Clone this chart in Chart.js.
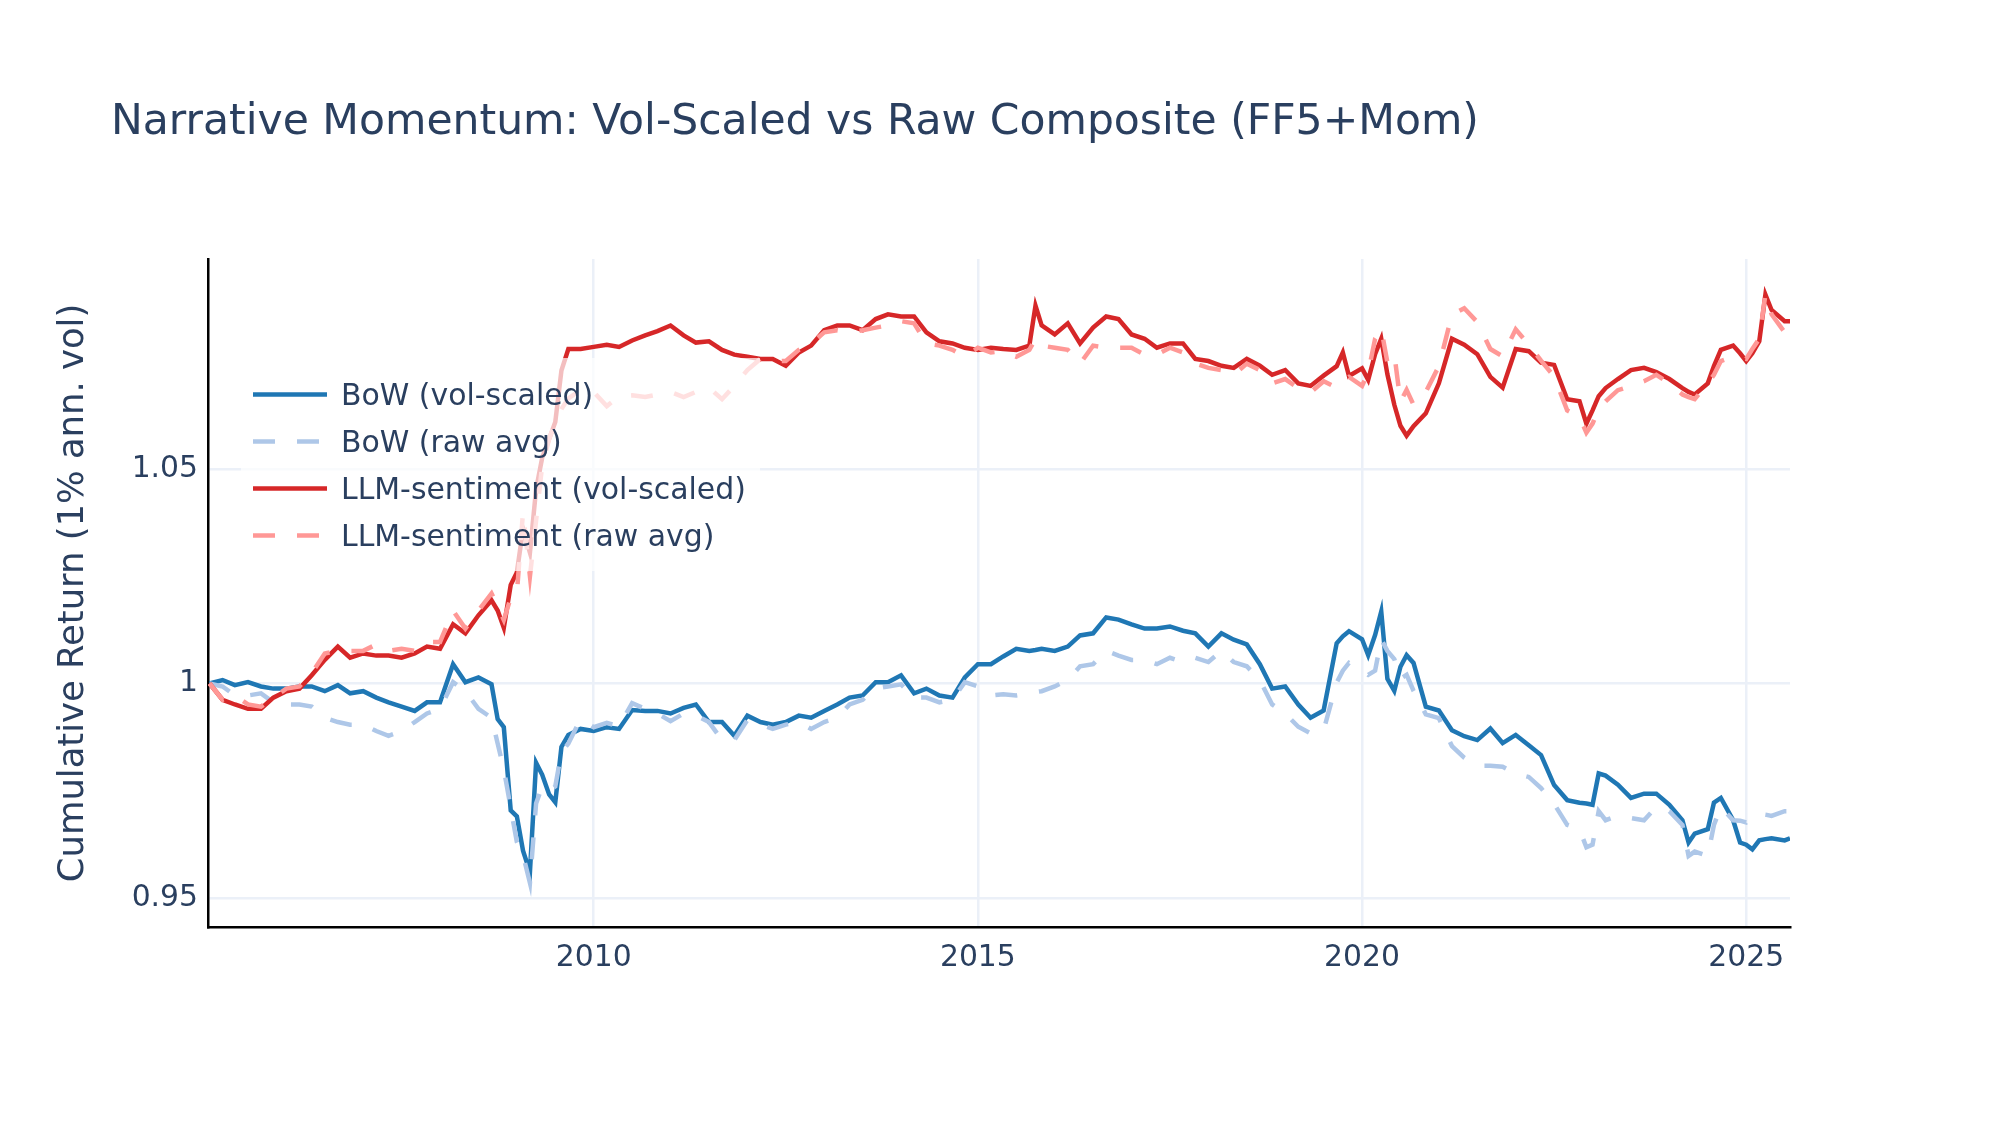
<!DOCTYPE html>
<html>
<head>
<meta charset="utf-8">
<script src="https://cdn.jsdelivr.net/npm/chart.js@4.4.1/dist/chart.umd.min.js"></script>
<style>
html, body { margin: 0; padding: 0; background: #ffffff; }
#quadro { width: 2000px; height: 1126px; position: relative; }
</style>
</head>
<body>
<div id="quadro"><canvas id="grafico-retorno"></canvas></div>
<script>
// decimal years, one row per calendar year
const datas = [
    2005.00, 2005.17, 2005.33, 2005.50, 2005.67, 2005.83,
    2006.00, 2006.17, 2006.33, 2006.50, 2006.67, 2006.83,
    2007.00, 2007.17, 2007.33, 2007.50, 2007.67, 2007.83,
    2008.00, 2008.17, 2008.33, 2008.50, 2008.67, 2008.75, 2008.83, 2008.92,
    2009.00, 2009.08, 2009.17, 2009.25, 2009.33, 2009.42, 2009.50, 2009.58, 2009.67, 2009.83,
    2010.00, 2010.17, 2010.33, 2010.50, 2010.67, 2010.83,
    2011.00, 2011.17, 2011.33, 2011.50, 2011.67, 2011.83,
    2012.00, 2012.17, 2012.33, 2012.50, 2012.67, 2012.83,
    2013.00, 2013.17, 2013.33, 2013.50, 2013.67, 2013.83,
    2014.00, 2014.17, 2014.33, 2014.50, 2014.67, 2014.83,
    2015.00, 2015.17, 2015.33, 2015.50, 2015.67, 2015.75, 2015.83,
    2016.00, 2016.17, 2016.33, 2016.50, 2016.67, 2016.83,
    2017.00, 2017.17, 2017.33, 2017.50, 2017.67, 2017.83,
    2018.00, 2018.17, 2018.33, 2018.50, 2018.67, 2018.83,
    2019.00, 2019.17, 2019.33, 2019.50, 2019.67, 2019.75, 2019.83,
    2020.00, 2020.08, 2020.17, 2020.25, 2020.33, 2020.42, 2020.50, 2020.58, 2020.67, 2020.83,
    2021.00, 2021.17, 2021.33, 2021.50, 2021.67, 2021.83,
    2022.00, 2022.17, 2022.33, 2022.50, 2022.67, 2022.83, 2022.92,
    2023.00, 2023.08, 2023.17, 2023.33, 2023.50, 2023.67, 2023.83,
    2024.00, 2024.17, 2024.25, 2024.33, 2024.50, 2024.58, 2024.67, 2024.83, 2024.92,
    2025.00, 2025.08, 2025.17, 2025.25, 2025.33, 2025.50, 2025.57
];

const bowVolScaled = [
    1.0000, 1.0008, 0.9996, 1.0003, 0.9993, 0.9988,
    0.9988, 0.9993, 0.9993, 0.9982, 0.9996, 0.9977,
    0.9982, 0.9967, 0.9956, 0.9946, 0.9936, 0.9956,
    0.9956, 1.0045, 1.0003, 1.0014, 0.9998, 0.9917, 0.9898, 0.9704,
    0.9690, 0.9610, 0.9560, 0.9815, 0.9787, 0.9741, 0.9723, 0.9852, 0.9880, 0.9894,
    0.9889, 0.9898, 0.9894, 0.9938, 0.9936, 0.9936,
    0.9930, 0.9943, 0.9951, 0.9910, 0.9910, 0.9878,
    0.9925, 0.9910, 0.9904, 0.9910, 0.9925, 0.9920,
    0.9936, 0.9951, 0.9967, 0.9972, 1.0003, 1.0003,
    1.0019, 0.9977, 0.9988, 0.9972, 0.9967, 1.0014,
    1.0045, 1.0045, 1.0063, 1.0081, 1.0076, 1.0078, 1.0081,
    1.0076, 1.0086, 1.0112, 1.0117, 1.0154, 1.0149,
    1.0138, 1.0128, 1.0128, 1.0133, 1.0123, 1.0117,
    1.0086, 1.0117, 1.0102, 1.0091, 1.0045, 0.9988,
    0.9993, 0.9951, 0.9920, 0.9937, 1.0094, 1.0110, 1.0122,
    1.0103, 1.0066, 1.0113, 1.0168, 1.0011, 0.9983, 1.0039, 1.0066, 1.0048, 0.9946,
    0.9937, 0.9891, 0.9877, 0.9868, 0.9895, 0.9861,
    0.9880, 0.9856, 0.9833, 0.9763, 0.9728, 0.9722, 0.9720,
    0.9717, 0.9790, 0.9785, 0.9764, 0.9733, 0.9743, 0.9743,
    0.9717, 0.9681, 0.9629, 0.9650, 0.9660, 0.9722, 0.9733, 0.9681, 0.9629,
    0.9624, 0.9613, 0.9634, 0.9637, 0.9639, 0.9634, 0.9639
];

const bowRawAvg = [
    1.0000, 0.9993, 0.9972, 0.9972, 0.9977, 0.9956,
    0.9951, 0.9951, 0.9946, 0.9920, 0.9910, 0.9904,
    0.9904, 0.9889, 0.9878, 0.9889, 0.9910, 0.9930,
    0.9941, 1.0003, 0.9982, 0.9941, 0.9920, 0.9860, 0.9800, 0.9710,
    0.9630, 0.9600, 0.9535, 0.9720, 0.9760, 0.9750, 0.9760, 0.9840, 0.9860, 0.9917,
    0.9898, 0.9908, 0.9900, 0.9954, 0.9941, 0.9930,
    0.9912, 0.9930, 0.9926, 0.9910, 0.9868, 0.9868,
    0.9915, 0.9904, 0.9894, 0.9904, 0.9910, 0.9894,
    0.9910, 0.9920, 0.9951, 0.9962, 0.9988, 0.9993,
    0.9998, 0.9967, 0.9967, 0.9956, 0.9962, 1.0003,
    0.9993, 0.9972, 0.9975, 0.9972, 0.9977, 0.9980, 0.9982,
    0.9993, 1.0008, 1.0040, 1.0045, 1.0076, 1.0065,
    1.0055, 1.0055, 1.0045, 1.0060, 1.0050, 1.0060,
    1.0050, 1.0076, 1.0050, 1.0040, 1.0008, 0.9951,
    0.9930, 0.9899, 0.9884, 0.9891, 1.0002, 1.0030, 1.0048,
    1.0030, 1.0020, 1.0030, 1.0103, 1.0076, 1.0057, 1.0011, 1.0020, 0.9983, 0.9928,
    0.9919, 0.9854, 0.9827, 0.9808, 0.9808, 0.9806,
    0.9790, 0.9782, 0.9756, 0.9719, 0.9670, 0.9660, 0.9618,
    0.9624, 0.9702, 0.9681, 0.9691, 0.9686, 0.9681, 0.9712,
    0.9702, 0.9670, 0.9598, 0.9608, 0.9598, 0.9670, 0.9712, 0.9681, 0.9680,
    0.9676, 0.9690, 0.9696, 0.9694, 0.9691, 0.9702, 0.9702
];

const llmVolScaled = [
    1.0000, 0.9962, 0.9951, 0.9941, 0.9941, 0.9967,
    0.9982, 0.9988, 1.0019, 1.0055, 1.0086, 1.0060,
    1.0070, 1.0065, 1.0065, 1.0060, 1.0070, 1.0086,
    1.0081, 1.0138, 1.0117, 1.0159, 1.0194, 1.0170, 1.0130, 1.0230,
    1.0259, 1.0360, 1.0305, 1.0453, 1.0527, 1.0570, 1.0610, 1.0730, 1.0780, 1.0780,
    1.0785, 1.0790, 1.0785, 1.0800, 1.0812, 1.0822,
    1.0835, 1.0812, 1.0795, 1.0798, 1.0778, 1.0767,
    1.0762, 1.0757, 1.0757, 1.0741, 1.0772, 1.0788,
    1.0824, 1.0835, 1.0835, 1.0824, 1.0850, 1.0861,
    1.0856, 1.0856, 1.0819, 1.0798, 1.0793, 1.0783,
    1.0778, 1.0783, 1.0780, 1.0778, 1.0788, 1.0881, 1.0835,
    1.0814, 1.0840, 1.0793, 1.0830, 1.0856, 1.0850,
    1.0814, 1.0804, 1.0783, 1.0793, 1.0793, 1.0757,
    1.0752, 1.0741, 1.0736, 1.0757, 1.0741, 1.0720,
    1.0731, 1.0700, 1.0694, 1.0718, 1.0740, 1.0772, 1.0717,
    1.0735, 1.0708, 1.0768, 1.0804, 1.0721, 1.0650, 1.0601, 1.0578, 1.0600, 1.0630,
    1.0700, 1.0804, 1.0790, 1.0768, 1.0715, 1.0690,
    1.0780, 1.0775, 1.0748, 1.0743, 1.0663, 1.0658, 1.0606,
    1.0637, 1.0670, 1.0689, 1.0710, 1.0731, 1.0736, 1.0726,
    1.0710, 1.0689, 1.0680, 1.0674, 1.0700, 1.0740, 1.0778, 1.0788, 1.0770,
    1.0752, 1.0770, 1.0798, 1.0907, 1.0871, 1.0845, 1.0845
];

const llmRawAvg = [
    1.0000, 0.9962, 0.9972, 0.9951, 0.9946, 0.9967,
    0.9988, 0.9993, 1.0024, 1.0070, 1.0076, 1.0076,
    1.0076, 1.0091, 1.0076, 1.0081, 1.0076, 1.0097,
    1.0097, 1.0170, 1.0128, 1.0170, 1.0210, 1.0180, 1.0148, 1.0200,
    1.0210, 1.0400, 1.0250, 1.0380, 1.0510, 1.0570, 1.0610, 1.0640, 1.0665, 1.0684,
    1.0680, 1.0647, 1.0670, 1.0672, 1.0668, 1.0674,
    1.0680, 1.0668, 1.0680, 1.0690, 1.0663, 1.0694,
    1.0731, 1.0757, 1.0752, 1.0752, 1.0778, 1.0793,
    1.0819, 1.0824, 1.0819, 1.0824, 1.0830, 1.0835,
    1.0845, 1.0840, 1.0793, 1.0788, 1.0778, 1.0762,
    1.0783, 1.0772, 1.0775, 1.0762, 1.0778, 1.0804, 1.0788,
    1.0783, 1.0778, 1.0746, 1.0788, 1.0783, 1.0783,
    1.0783, 1.0767, 1.0767, 1.0783, 1.0772, 1.0746,
    1.0736, 1.0731, 1.0720, 1.0746, 1.0731, 1.0700,
    1.0710, 1.0689, 1.0679, 1.0705, 1.0690, 1.0705, 1.0715,
    1.0694, 1.0725, 1.0804, 1.0827, 1.0749, 1.0768, 1.0657, 1.0685, 1.0650, 1.0680,
    1.0740, 1.0860, 1.0875, 1.0843, 1.0780, 1.0763,
    1.0826, 1.0790, 1.0753, 1.0716, 1.0637, 1.0622, 1.0585,
    1.0606, 1.0640, 1.0658, 1.0684, 1.0694, 1.0705, 1.0720,
    1.0700, 1.0674, 1.0668, 1.0663, 1.0700, 1.0720, 1.0752, 1.0762, 1.0760,
    1.0757, 1.0780, 1.0804, 1.0907, 1.0861, 1.0819, 1.0845
];

const anosTicks = [2010, 2015, 2020, 2025];
const retornoTicks = [0.95, 1, 1.05];
const retornoLabels = ["0.95", "1", "1.05"];

const corTexto = "#2a3f5f";
const corGrade = "#EBF0F8";
const fonte = "'DejaVu Sans', Verdana, sans-serif";

function pontos(valores) {
    return datas.map((d, i) => ({ x: d, y: valores[i] }));
}

// title drawn above the plot, left aligned like the original
const tituloPlugin = {
    id: "titulo",
    afterDraw(chart) {
        const ctx = chart.ctx;
        ctx.save();
        ctx.font = "42.5px " + fonte;
        ctx.fillStyle = corTexto;
        ctx.textAlign = "left";
        ctx.textBaseline = "alphabetic";
        ctx.fillText("Narrative Momentum: Vol-Scaled vs Raw Composite (FF5+Mom)", 111, 134);
        ctx.restore();
    }
};

// legend sits inside the plot on a half transparent white box
const legendaPlugin = {
    id: "legendaInterna",
    afterDatasetsDraw(chart) {
        const ctx = chart.ctx;
        const esq = chart.chartArea.left + 33;
        ctx.save();
        ctx.fillStyle = "rgba(255,255,255,0.7)";
        ctx.fillRect(esq, 358, 519, 213);
        ctx.font = "29.9px " + fonte;
        ctx.textBaseline = "alphabetic";
        chart.data.datasets.forEach((ds, i) => {
            const y = 394.5 + i * 47;
            ctx.beginPath();
            ctx.setLineDash(ds.borderDash || []);
            ctx.strokeStyle = ds.borderColor;
            ctx.lineWidth = ds.borderWidth;
            ctx.moveTo(esq + 12, y);
            ctx.lineTo(esq + 86, y);
            ctx.stroke();
            ctx.setLineDash([]);
            ctx.fillStyle = corTexto;
            ctx.fillText(ds.label, esq + 100, y + 10.9);
        });
        ctx.restore();
    }
};

const areaGrafico = document.getElementById("grafico-retorno");

new Chart(areaGrafico, {
    type: "line",
    data: {
        datasets: [
            {
                label: "BoW (vol-scaled)",
                data: pontos(bowVolScaled),
                borderColor: "#1f77b4",
                backgroundColor: "#1f77b4",
                borderWidth: 4.5,
                order: 4
            },
            {
                label: "BoW (raw avg)",
                data: pontos(bowRawAvg),
                borderColor: "#aec7e8",
                backgroundColor: "#aec7e8",
                borderWidth: 4.5,
                borderDash: [22, 22],
                order: 3
            },
            {
                label: "LLM-sentiment (vol-scaled)",
                data: pontos(llmVolScaled),
                borderColor: "#d62728",
                backgroundColor: "#d62728",
                borderWidth: 4.5,
                order: 2
            },
            {
                label: "LLM-sentiment (raw avg)",
                data: pontos(llmRawAvg),
                borderColor: "#ff9896",
                backgroundColor: "#ff9896",
                borderWidth: 4.5,
                borderDash: [22, 22],
                order: 1
            }
        ]
    },
    options: {
        responsive: true,
        maintainAspectRatio: false,
        animation: false,
        elements: {
            point: { radius: 0 },
            line: { tension: 0 }
        },
        layout: {
            padding: { left: 0, right: 210, top: 259, bottom: 0 }
        },
        plugins: {
            legend: { display: false },
            title: { display: false },
            tooltip: { enabled: false }
        },
        scales: {
            x: {
                type: "linear",
                min: 2004.98,
                max: 2025.57,
                afterBuildTicks: (eixo) => {
                    eixo.ticks = anosTicks.map(v => ({ value: v }));
                },
                afterFit: (eixo) => { eixo.height = 199; },
                ticks: {
                    autoSkip: false,
                    maxRotation: 0,
                    padding: 13,
                    color: corTexto,
                    font: { family: fonte, size: 29.8 },
                    callback: (v) => String(v)
                },
                grid: { color: corGrade, lineWidth: 2.5, drawTicks: false },
                border: { display: true, color: "#000000", width: 2.5 }
            },
            y: {
                type: "linear",
                min: 0.9432,
                max: 1.099,
                afterBuildTicks: (eixo) => {
                    eixo.ticks = retornoTicks.map(v => ({ value: v }));
                },
                afterFit: (eixo) => { eixo.width = 208; },
                ticks: {
                    padding: 10,
                    color: corTexto,
                    font: { family: fonte, size: 29.8 },
                    callback: (v) => {
                        const k = retornoTicks.findIndex(t => Math.abs(t - v) < 1e-9);
                        return k >= 0 ? retornoLabels[k] : "";
                    }
                },
                grid: { color: corGrade, lineWidth: 2.5, drawTicks: false },
                border: { display: true, color: "#000000", width: 2.5 },
                title: {
                    display: true,
                    text: "Cumulative Return (1% ann. vol)",
                    color: corTexto,
                    font: { family: fonte, size: 35.4, lineHeight: 1.2 },
                    padding: { top: 53, bottom: 0 }
                }
            }
        }
    },
    plugins: [tituloPlugin, legendaPlugin]
});
</script>
</body>
</html>
